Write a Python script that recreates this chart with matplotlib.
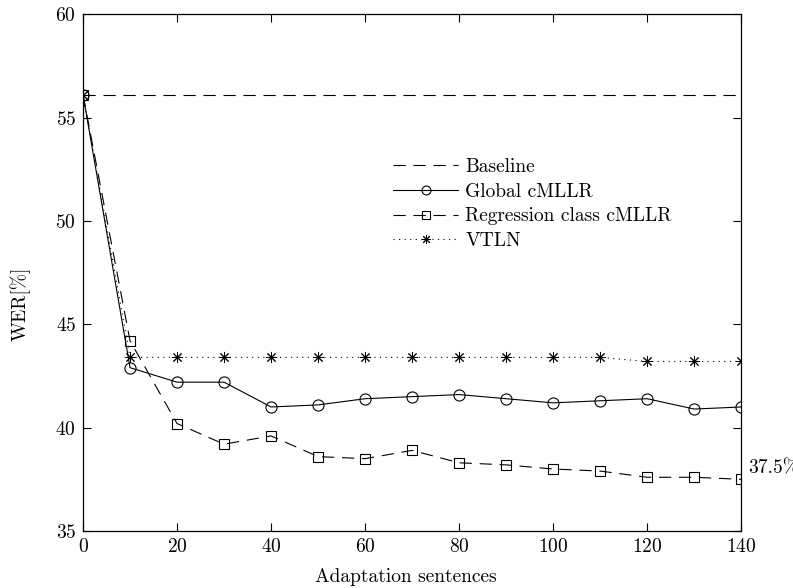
import numpy as np
import matplotlib
matplotlib.use("Agg")
import matplotlib.pyplot as plt

plt.rcParams['font.family'] = ['cmr10', 'DejaVu Serif']
plt.rcParams['axes.formatter.use_mathtext'] = True

# -----------------------------------------------------------------------------
sentences = [0, 10, 20, 30, 40, 50, 60, 70, 80, 90, 100, 110, 120, 130, 140]
baseline = [56.1] * len(sentences)
global_cmllr = [56.1, 42.9, 42.2, 42.2, 41.0, 41.1, 41.4, 41.5, 41.6,
                41.4, 41.2, 41.3, 41.4, 40.9, 41.0]
regression_cmllr = [56.1, 44.2, 40.2, 39.2, 39.6, 38.6, 38.5, 38.9, 38.3,
                    38.2, 38.0, 37.9, 37.6, 37.6, 37.5]
vtln = [56.1, 43.4, 43.4, 43.4, 43.4, 43.4, 43.4, 43.4, 43.4,
        43.4, 43.4, 43.4, 43.2, 43.2, 43.2]

xticks = [0, 20, 40, 60, 80, 100, 120, 140]
yticks = [35, 40, 45, 50, 55, 60]

fig = plt.figure(figsize=(7.93, 5.88), dpi=100)
ax = fig.add_axes([0.1047, 0.0969, 0.830, 0.879])

lw = 0.8
fs = 14
ax.plot(sentences, baseline, color='black', lw=lw, dashes=(11, 7),
        label='Baseline')
ax.plot(sentences, global_cmllr, color='black', lw=lw, marker='o', ms=8,
        mfc='none', mew=0.8, label='Global cMLLR')
ax.plot(sentences, regression_cmllr, color='black', lw=lw, dashes=(11, 7),
        marker='s', ms=7, mfc='none', mew=0.8,
        label='Regression class cMLLR')
ax.plot(sentences, vtln, color='black', lw=lw, dashes=(1, 4),
        marker=(8, 2, 0), ms=8, mew=0.7, label='VTLN')

ax.annotate('37.5%', xy=(sentences[-1], regression_cmllr[-1]),
            xytext=(5, 8), textcoords='offset points', fontsize=fs,
            ha='left', va='center', annotation_clip=False)

ax.set_xlim(0, 140)
ax.set_ylim(35, 60)
ax.set_xticks(xticks)
ax.set_yticks(yticks)
ax.tick_params(direction='in', top=True, right=True, labelsize=fs,
               length=6, width=0.8, pad=5)
for s in ax.spines.values():
    s.set_linewidth(0.9)

ax.set_xlabel('Adaptation sentences', fontsize=fs)
ax.set_ylabel('WER[%]', fontsize=fs)
ax.xaxis.set_label_coords(0.491, -0.071)
ax.yaxis.set_label_coords(-0.080, 0.439)

leg = ax.legend(loc='upper left', bbox_to_anchor=(0.451, 0.748),
                frameon=False, fontsize=fs, handlelength=3.3,
                handletextpad=0.4, labelspacing=0.35, borderpad=0.2,
                markerscale=0.8)

fig.savefig('out.png', dpi=100)
